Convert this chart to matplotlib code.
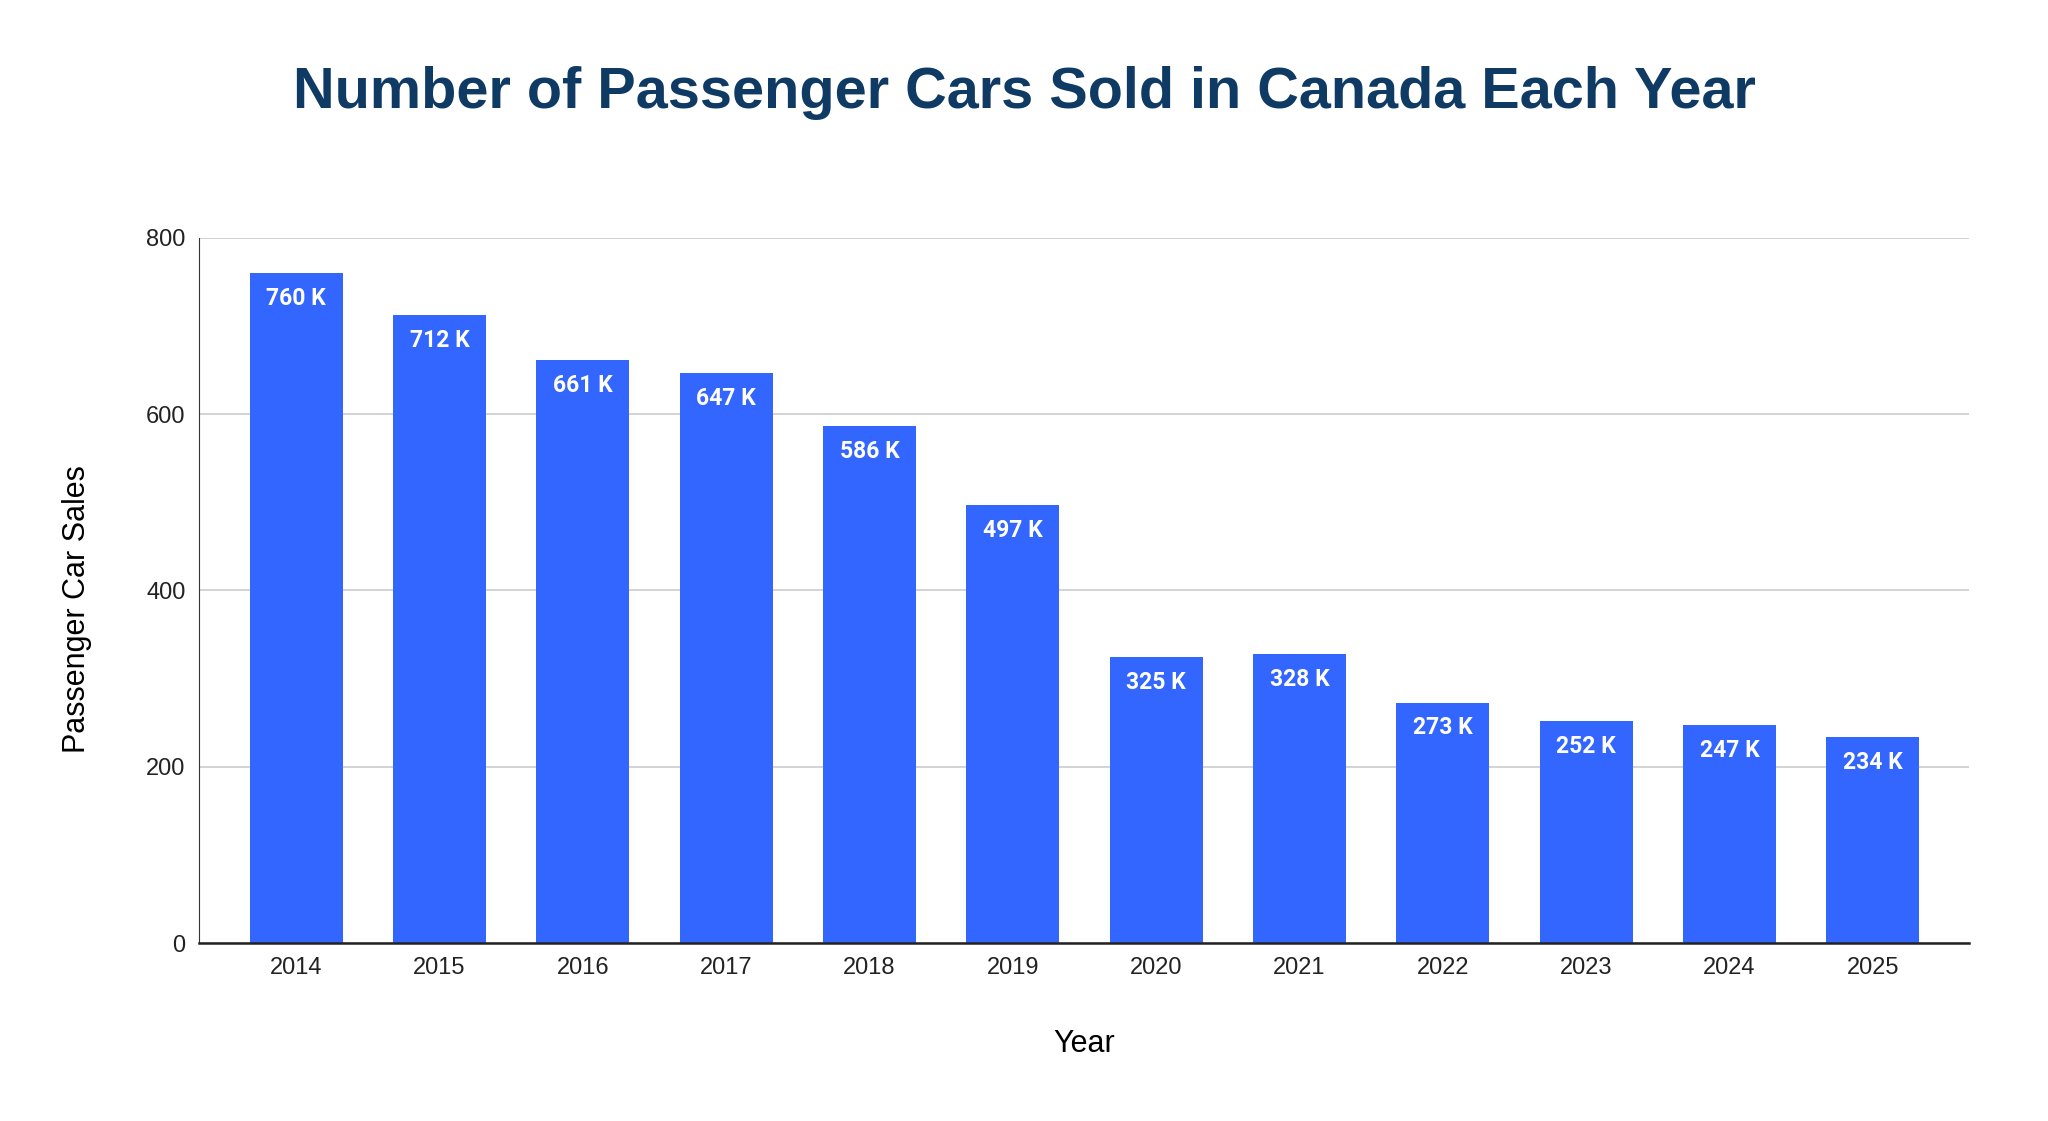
import numpy as np
import matplotlib.pyplot as plt

years = ["2014", "2015", "2016", "2017", "2018", "2019",
         "2020", "2021", "2022", "2023", "2024", "2025"]
sales = [760, 712, 661, 647, 586, 497, 325, 328, 273, 252, 247, 234]
yticks = [0, 200, 400, 600, 800]

bar_color = "#3366ff"
title_color = "#0e3a63"

plt.rcParams['font.family'] = ['Liberation Sans', 'DejaVu Sans']

fig = plt.figure(figsize=(20.48, 11.21), dpi=100)
ax = fig.add_axes([0.0974, 0.1585, 0.864, 0.6295])

x = np.arange(len(years))
bars = ax.bar(x, sales, width=0.65, color=bar_color, zorder=3)

for b, v in zip(bars, sales):
    ax.annotate(f"{v} K", (b.get_x() + b.get_width() / 2, v),
                xytext=(0, -10), textcoords="offset points",
                ha="center", va="top", color="white", fontsize=16.5,
                fontweight="bold", family=["Roboto", "DejaVu Sans"], zorder=4)

ax.set_xlim(-0.675, len(years) - 1 + 0.67)
ax.set_ylim(0, 800)
ax.set_yticks(yticks)
ax.set_xticks(x)
ax.set_xticklabels(years)
ax.tick_params(axis="both", length=0, labelsize=17, colors="#222222")
ax.tick_params(axis="x", pad=10)
ax.tick_params(axis="y", pad=10)

ax.grid(axis="y", color="#cccccc", linewidth=1.2, zorder=0)
for s in ["top", "right"]:
    ax.spines[s].set_visible(False)
ax.spines["left"].set_color("#333333")
ax.spines["bottom"].set_color("#222222")
ax.spines["bottom"].set_linewidth(1.8)
ax.spines["bottom"].set_zorder(5)

ax.set_xlabel("Year", fontsize=22, labelpad=36)
ax.set_ylabel("Passenger Car Sales", fontsize=22)
ax.yaxis.set_label_coords(-0.061, 0.473)

fig.text(0.5, 0.917, "Number of Passenger Cars Sold in Canada Each Year",
         ha="center", va="center", fontsize=41.5, fontweight="bold", color=title_color)

fig.savefig("out.png", dpi=100)
